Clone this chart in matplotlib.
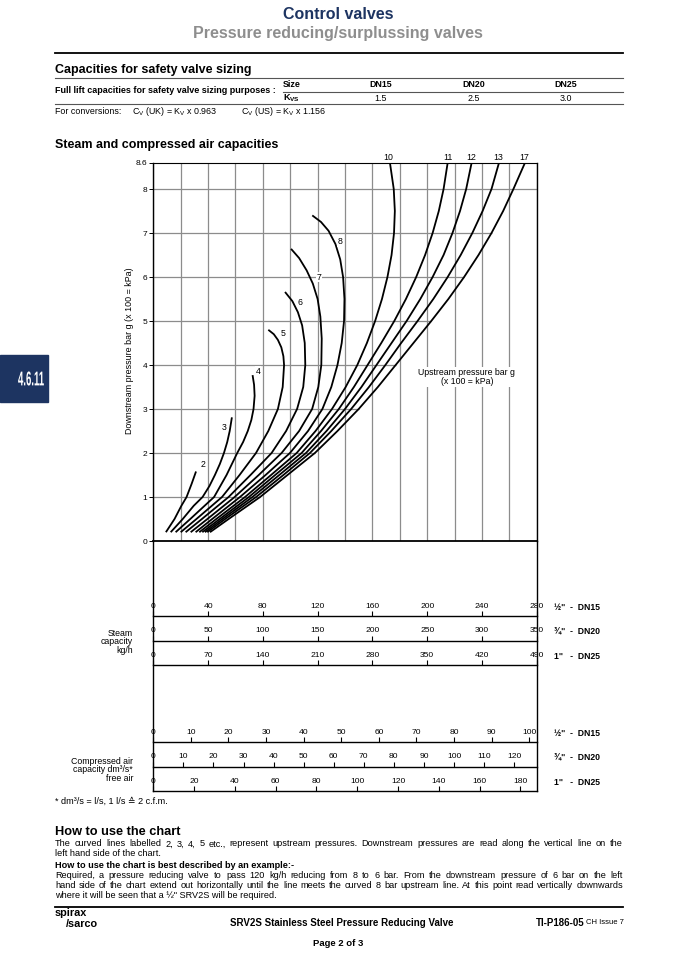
import numpy as np
import matplotlib.pyplot as plt
from matplotlib.patches import Rectangle, PathPatch
from matplotlib.textpath import TextPath
from matplotlib.font_manager import FontProperties
from matplotlib.transforms import Affine2D

plt.rcParams['font.family'] = ['Liberation Sans', 'DejaVu Sans']
plt.rcParams['mathtext.fontset'] = 'custom'
plt.rcParams['mathtext.rm'] = 'Liberation Sans'
plt.rcParams['mathtext.bf'] = 'Liberation Sans:bold'

# ---- data (x = DN15 steam kg/h, y = downstream bar g) ----
upstream = [2, 3, 4, 5, 6, 7, 8, 10, 11, 12, 13, 17]

curve_2 = [(9.2, 0.2), (15.5, 0.5), (20.5, 0.8), (24.3, 1.0), (28, 1.3), (31.2, 1.58)]
curve_3 = [(12.7, 0.2), (21.5, 0.5), (29.5, 0.8), (36, 1.0), (41, 1.25), (45, 1.5),
           (48.6, 1.75), (51.6, 2.0), (54, 2.25), (55.8, 2.5), (57.4, 2.81)]
curve_4 = [(16.3, 0.2), (27, 0.5), (44.4, 1.0), (53.5, 1.5), (61.3, 2.0), (65.6, 2.25),
           (69, 2.5), (71.6, 2.75), (73.2, 3.0), (74, 3.3), (73.6, 3.55), (72.5, 3.77)]
curve_5 = [(20, 0.2), (31.5, 0.5), (50.2, 1.0), (63, 1.5), (75, 2.0), (84, 2.5), (91, 3.0),
           (94.5, 3.5), (95.5, 4.0), (95, 4.2), (93.5, 4.4), (91, 4.57), (88, 4.7),
           (84, 4.8)]
curve_6 = [(23.6, 0.2), (35.5, 0.5), (55, 1.0), (71, 1.5), (86.4, 2.0), (97, 2.5), (105, 3.0),
           (109.5, 3.5), (111, 4.0), (110.6, 4.5), (108.7, 4.9), (105.6, 5.2), (101.6, 5.45),
           (96.2, 5.66)]
curve_7 = [(27.3, 0.2), (39.5, 0.5), (59.4, 1.0), (77, 1.5), (93.7, 2.0), (106.5, 2.5),
           (116, 3.0), (120.5, 3.5), (122.7, 4.0), (123, 4.6), (122, 5.1), (120, 5.5),
           (116.5, 5.85), (112, 6.15), (106.5, 6.43), (100.6, 6.64)]
curve_8 = [(30.9, 0.2), (43, 0.5), (63.3, 1.0), (82, 1.5), (99.8, 2.0), (113, 2.5),
           (123.5, 3.0), (130, 3.5), (134.5, 4.0), (137.6, 4.5), (139.3, 5.0), (139.6, 5.5),
           (138.6, 6.0), (136.5, 6.4), (133, 6.75), (128, 7.05), (122.5, 7.25), (116.1, 7.4)]
curve_10 = [(33.6, 0.2), (46, 0.5), (67, 1.0), (86, 1.5), (104.7, 2.0), (118.5, 2.5),
            (130.5, 3.0), (140.5, 3.5), (149, 4.0), (156, 4.5), (162, 5.0), (167, 5.5),
            (171, 6.0), (174, 6.5), (175.8, 7.0), (176.4, 7.5), (175.6, 8.0), (172.8, 8.6)]
curve_11 = [(35.8, 0.2), (48.5, 0.5), (69.8, 1.0), (89, 1.5), (108.3, 2.0), (122.5, 2.5),
            (135.5, 3.0), (146.5, 3.5), (156.5, 4.0), (166.5, 4.5), (176, 5.0), (184.5, 5.5),
            (192, 6.0), (198.5, 6.5), (204, 7.0), (208.5, 7.5), (212, 8.0), (215, 8.6)]
curve_12 = [(37.7, 0.2), (50.5, 0.5), (72.4, 1.0), (92, 1.5), (111.5, 2.0), (126.5, 2.5),
            (140, 3.0), (152, 3.5), (163, 4.0), (174, 4.5), (185, 5.0), (195, 5.5),
            (204, 6.0), (212, 6.5), (218.5, 7.0), (224, 7.5), (228.5, 8.0), (232.5, 8.6)]
curve_13 = [(39.4, 0.2), (52.5, 0.5), (75.1, 1.0), (95, 1.5), (114.4, 2.0), (130, 2.5),
            (144.5, 3.0), (157.5, 3.5), (169.5, 4.0), (181, 4.5), (193, 5.0), (204.5, 5.5),
            (215, 6.0), (224.5, 6.5), (233, 7.0), (240.5, 7.5), (247, 8.0), (252.5, 8.6)]
curve_17 = [(41.4, 0.2), (55, 0.5), (78, 1.0), (98, 1.5), (118, 2.0), (134.5, 2.5),
            (150, 3.0), (164, 3.5), (177, 4.0), (190, 4.5), (203, 5.0), (215.5, 5.5),
            (227, 6.0), (237.5, 6.5), (247, 7.0), (255.5, 7.5), (263, 8.0), (271.5, 8.6)]

# label anchor for each curve (kg/h, bar g)
label_pos = [(36, 1.73), (51.6, 2.58), (76.7, 3.86), (94.5, 4.71), (107.4, 5.42),
             (120.8, 6.0), (136.3, 6.8), (171.9, 8.62), (215, 8.62), (232.5, 8.62),
             (252, 8.62), (271, 8.62)]

y_ticks = [0, 1, 2, 3, 4, 5, 6, 7, 8, 8.6]

steam_dn15 = [0, 40, 80, 120, 160, 200, 240, 280]
steam_dn20 = [0, 50, 100, 150, 200, 250, 300, 350]
steam_dn25 = [0, 70, 140, 210, 280, 350, 420, 490]
air_dn15 = [0, 10, 20, 30, 40, 50, 60, 70, 80, 90, 100]
air_dn20 = [0, 10, 20, 30, 40, 50, 60, 70, 80, 90, 100, 110, 120]
air_dn25 = [0, 20, 40, 60, 80, 100, 120, 140, 160, 180]
air_max = [102, 127.5, 188]

sizes = ['DN15', 'DN20', 'DN25']
kvs = ['1.5', '2.5', '3.0']

# ---- layout (page pixels) ----
W, H = 677, 958
NAVY = '#1d3461'
GRID = '#8c8c8c'
CL, CR = 153.3, 536.7
CT, CB = 162.6, 541.0

fig = plt.figure(figsize=(W / 100, H / 100), dpi=100)
page = fig.add_axes([0, 0, 1, 1])
page.set_xlim(0, W)
page.set_ylim(H, 0)
page.axis('off')


def px_axes(x0, y0, x1, y1):
    return fig.add_axes([x0 / W, 1 - y1 / H, (x1 - x0) / W, (y1 - y0) / H])


# header
page.text(338, 14, 'Control valves', ha='center', va='center', fontsize=11.5,
          fontweight='bold', color=NAVY)
page.text(338, 33, 'Pressure reducing/surplussing valves', ha='center', va='center',
          fontsize=11.5, fontweight='bold', color='#8e8e8e')
page.plot([55, 623], [53, 53], color='black', lw=1.3)

page.text(55, 70, 'Capacities for safety valve sizing', va='center', fontsize=9,
          fontweight='bold')
page.plot([55, 623], [77.5, 77.5], color='#555555', lw=0.8)
page.text(55, 90.5, 'Full lift capacities for safety valve sizing purposes :', va='center',
          fontsize=6.5, fontweight='bold')
page.text(283, 84.5, 'Size', va='center', fontsize=6.4, fontweight='bold')
page.plot([283, 623], [92, 92], color='#555555', lw=0.8)
page.text(283, 98, r'$\mathbf{K}_{\mathbf{VS}}$', va='center', fontsize=6.6)
for cx, s, k in zip([381, 474, 566], sizes, kvs):
    page.text(cx, 84.5, s, ha='center', va='center', fontsize=6.4, fontweight='bold')
    page.text(cx, 98, k, ha='center', va='center', fontsize=6.4)
page.plot([55, 623], [104, 104], color='#555555', lw=0.8)
page.text(55, 111.5, 'For conversions:', va='center', fontsize=6.4)
page.text(132, 111.5, r'C$_\mathrm{V}$ (UK) = K$_\mathrm{V}$ x 0.963', va='center',
          fontsize=6.4)
page.text(241, 111.5, r'C$_\mathrm{V}$ (US) = K$_\mathrm{V}$ x 1.156', va='center',
          fontsize=6.4)

page.text(55, 145, 'Steam and compressed air capacities', va='center', fontsize=9,
          fontweight='bold')

# side tab with condensed lettering
page.add_patch(Rectangle((0, 355), 48, 47, color=NAVY))
tp = TextPath((0, 0), '4.6.11', size=16,
              prop=FontProperties(family='Liberation Sans', weight='bold'))
ext = tp.get_extents()
sx, sy = 0.6, 1.25
tab_tr = Affine2D().translate(-(ext.x0 + ext.x1) / 2, -(ext.y0 + ext.y1) / 2) \
    .scale(sx, -sy).translate(31, 378.5)
page.add_patch(PathPatch(tab_tr.transform_path(tp), facecolor='white', edgecolor='none'))

# ---- chart ----
ax = px_axes(CL, CT, CR, CB)
ax.set_xlim(0, 280)
ax.set_ylim(0, 8.6)
ax.set_axisbelow(True)
ax.set_xticks(np.arange(0, 281, 20))
ax.tick_params(axis='x', length=0, labelbottom=False)
ax.grid(axis='x', color=GRID, lw=0.9)
ax.set_yticks(y_ticks)
ax.set_yticklabels([('%g' % t) for t in y_ticks])
ax.tick_params(axis='y', length=3, width=0.7, labelsize=6, pad=1.5)
for name, lw in [('left', 1.0), ('bottom', 1.3), ('right', 1.0), ('top', 0.8)]:
    ax.spines[name].set_linewidth(lw)

c17 = np.array(curve_17)
for p in range(1, 9):
    x_end = 280 if p == 8 else np.interp(p, c17[:, 1], c17[:, 0])
    ax.hlines(p, 0, x_end, color=GRID, lw=0.9, zorder=0.5)

curves = [curve_2, curve_3, curve_4, curve_5, curve_6, curve_7, curve_8,
          curve_10, curve_11, curve_12, curve_13, curve_17]
for c in curves:
    arr = np.array(c)
    ax.plot(arr[:, 0], arr[:, 1], color='black', lw=1.3, solid_capstyle='butt',
            solid_joinstyle='round', zorder=3)

for u, (lx, ly) in zip(upstream, label_pos):
    top = ly > 8.6
    ax.text(lx, ly, str(u), ha='center', va='bottom' if top else 'center', fontsize=6.3,
            clip_on=False, zorder=4,
            bbox=None if top else dict(facecolor='white', edgecolor='none', pad=0.3))

ax.text(229, 3.73, 'Upstream pressure bar g\n(x 100 = kPa)', ha='center', va='center',
        fontsize=6.3, linespacing=1.0, zorder=4,
        bbox=dict(facecolor='white', edgecolor='none', pad=0.5))
page.text(129, 351, 'Downstream pressure bar g (x 100 = kPa)', rotation=90, ha='center',
          va='center', fontsize=6.4)

# side lines running through the capacity scales
page.plot([CL, CL], [CB, 791], color='black', lw=1.0)
page.plot([CR, CR], [CB, 791], color='black', lw=1.0)


def scale(y, xmax, ticks, side):
    s = px_axes(CL, y, CR, y + 1)
    s.set_xlim(0, xmax)
    s.set_ylim(0, 1)
    s.patch.set_visible(False)
    for k in ('bottom', 'left', 'right'):
        s.spines[k].set_visible(False)
    s.spines['top'].set_linewidth(1.0)
    s.set_yticks([])
    s.xaxis.set_ticks_position('top')
    s.set_xticks(ticks)
    s.set_xticklabels([str(t) for t in ticks])
    s.tick_params(axis='x', direction='out', length=3.5, width=0.8, labelsize=6.1, pad=1)
    page.text(554, y - 8.5, side, va='center', fontsize=6.2, fontweight='bold')


scale(616, 280, steam_dn15, '½"  -  DN15')
scale(640.5, 350, steam_dn20, '¾"  -  DN20')
scale(665, 490, steam_dn25, '1"   -  DN25')
page.text(133, 642, 'Steam\ncapacity\nkg/h', ha='right', va='center', fontsize=6.3,
          linespacing=0.95)

scale(742, air_max[0], air_dn15, '½"  -  DN15')
scale(766.5, air_max[1], air_dn20, '¾"  -  DN20')
scale(791, air_max[2], air_dn25, '1"   -  DN25')
page.text(133, 770, 'Compressed air\ncapacity dm³/s*\nfree air', ha='right', va='center',
          fontsize=6.3, linespacing=0.95)
page.text(55, 801, '* dm³/s = l/s, 1 l/s ≙ 2 c.f.m.', va='center', fontsize=6.6)

# ---- how to use ----
page.text(55, 832, 'How to use the chart', va='center', fontsize=9.2, fontweight='bold')
renderer = fig.canvas.get_renderer()


def justify(y, line, **kw):
    words = line.split()
    ts = [page.text(0, y, w, va='center', **kw) for w in words]
    widths = [t.get_window_extent(renderer).width for t in ts]
    gap = (623 - 55 - sum(widths)) / (len(words) - 1)
    x = 55
    for t, w in zip(ts, widths):
        t.set_x(x)
        x += w + gap


body = 6.6
justify(844, 'The curved lines labelled 2, 3, 4, 5 etc., represent upstream pressures. '
             'Downstream pressures are read along the vertical line on the', fontsize=body)
page.text(55, 854, 'left hand side of the chart.', va='center', fontsize=body)
page.text(55, 866, 'How to use the chart is best described by an example:-', va='center',
          fontsize=body, fontweight='bold')
justify(875.5, 'Required, a pressure reducing valve to pass 120 kg/h reducing from 8 to 6 bar. '
               'From the downstream pressure of 6 bar on the left', fontsize=body)
justify(885.5, 'hand side of the chart extend out horizontally until the line meets the curved '
               '8 bar upstream line. At this point read vertically downwards', fontsize=body)
page.text(55, 895.5, 'where it will be seen that a ½" SRV2S will be required.', va='center',
          fontsize=body)

# footer
page.plot([55, 623], [907, 907], color='black', lw=1.3)
page.text(55, 913, 'spirax', va='center', fontsize=7.8, fontweight='bold')
page.text(66, 924, '/sarco', va='center', fontsize=7.8, fontweight='bold')
page.text(342, 923, 'SRV2S Stainless Steel Pressure Reducing Valve', ha='center',
          va='center', fontsize=7, fontweight='bold')
page.text(586, 923, 'CH Issue 7', ha='left', va='center', fontsize=5.5)
page.text(585, 923, 'TI-P186-05', ha='right', va='center', fontsize=7, fontweight='bold')
page.text(338, 943, 'Page 2 of 3', ha='center', va='center', fontsize=6.8,
          fontweight='bold')

fig.savefig('out.png', dpi=100)
